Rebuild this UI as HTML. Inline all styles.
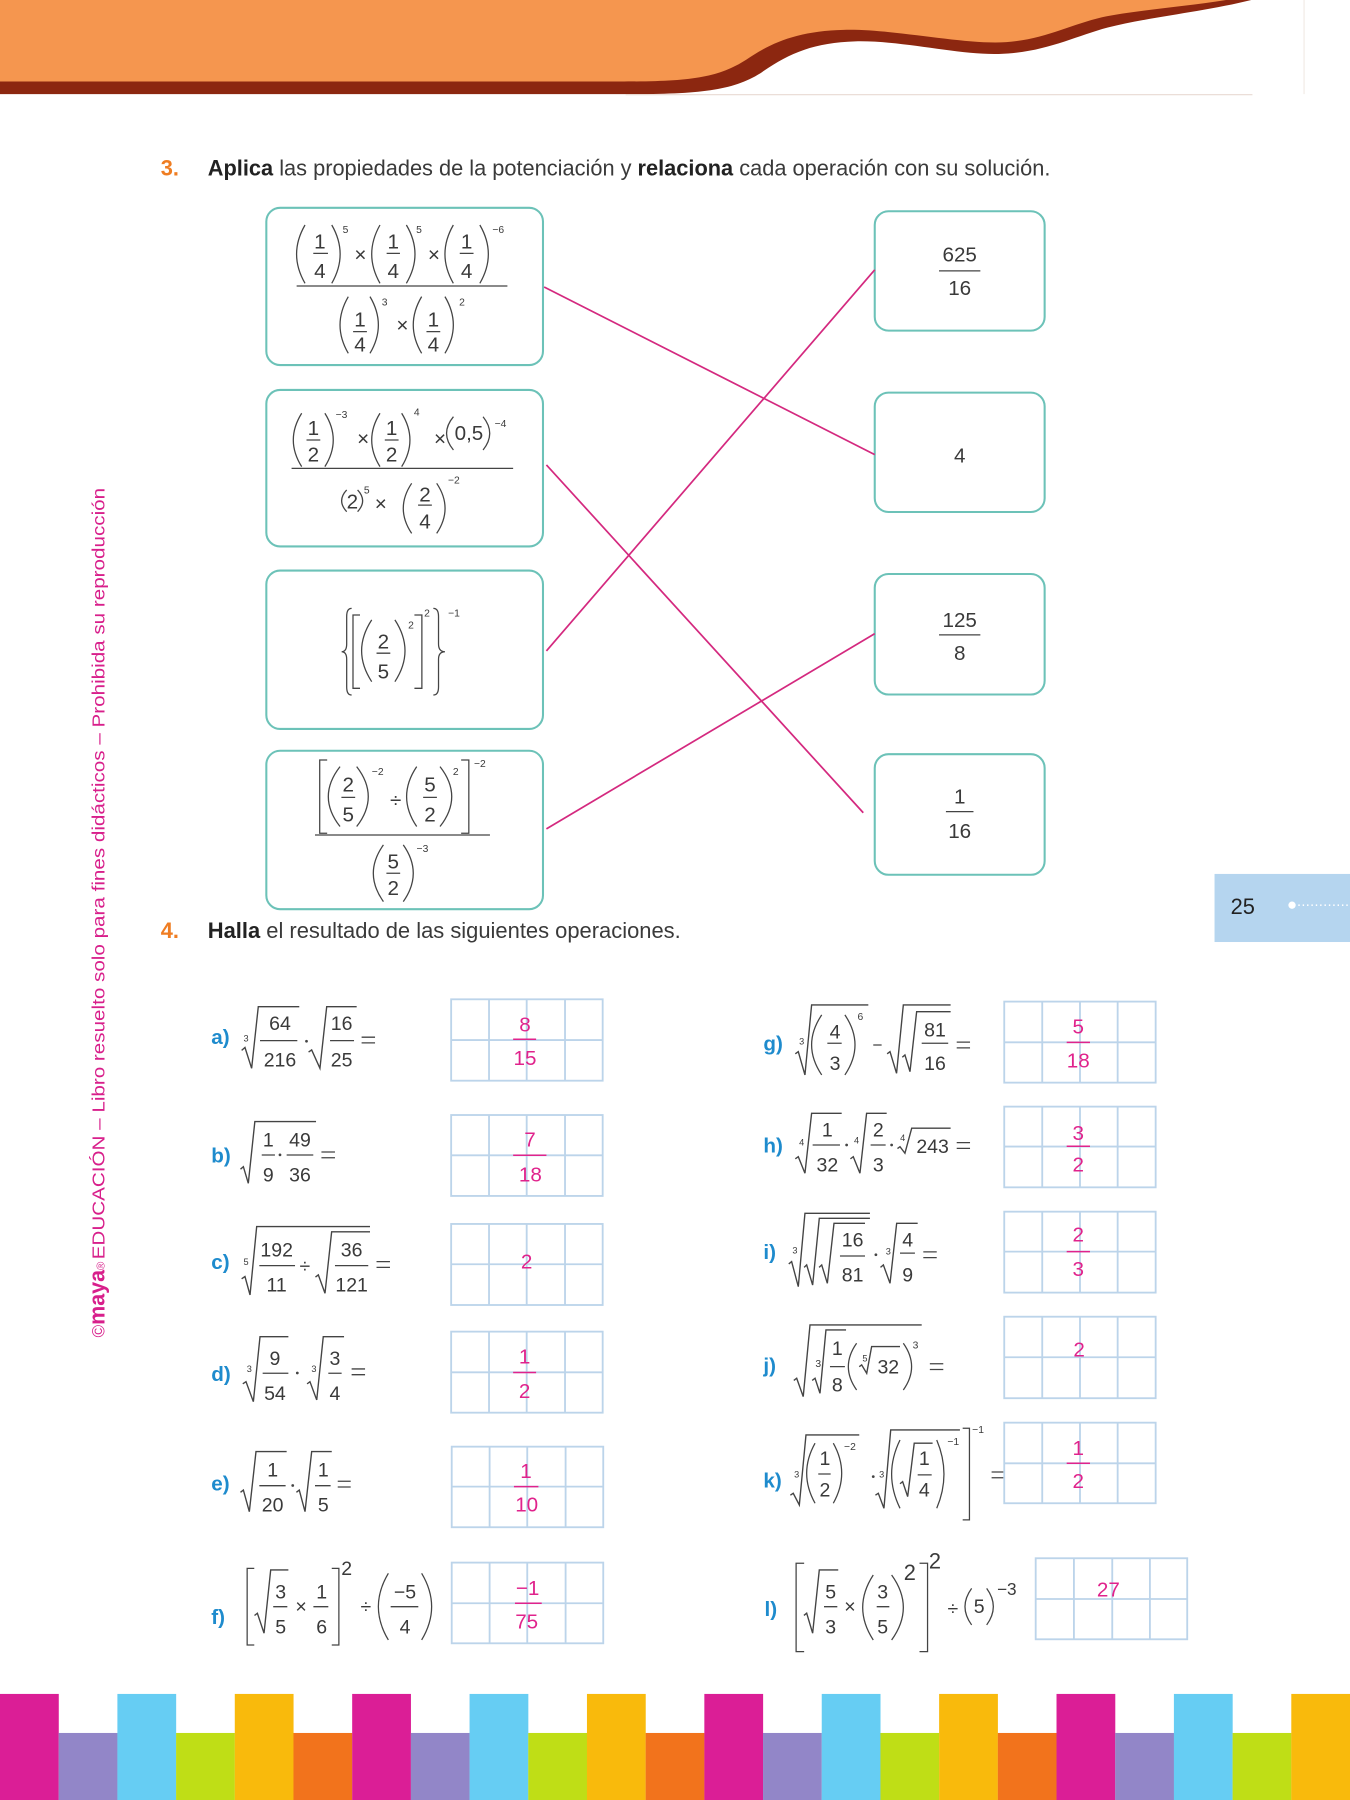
<!DOCTYPE html>
<html><head><meta charset="utf-8"><style>
html,body{margin:0;padding:0;background:#fff}
svg{display:block}
text{font-family:"Liberation Sans",sans-serif}
.d{font-size:18px;fill:#3a3a3a;text-anchor:middle}
.s{font-size:17px;fill:#3a3a3a;text-anchor:middle}
.x{font-size:9px;fill:#3a3a3a;text-anchor:middle}
.y{font-size:8px;fill:#3a3a3a;text-anchor:middle}
.a{font-size:18px;fill:#E0238C;text-anchor:middle}
.l{font-size:18px;font-weight:bold;fill:#1E8BCD}
.k{stroke:#444;stroke-width:1.1;fill:none}
.r{stroke:#444;stroke-width:1.2;fill:none;stroke-linejoin:miter}
.al{stroke:#E0238C;stroke-width:1.3;fill:none}
.g{stroke:#BCD4EA;stroke-width:1.6;fill:none}
.bx{fill:none;stroke:#6CC2B8;stroke-width:1.8}
.cn{stroke:#D4297F;stroke-width:1.5;fill:none}
</style></head><body>
<svg width="1350" height="1800" viewBox="0 0 1176 1568" xmlns="http://www.w3.org/2000/svg">
<rect width="1176" height="1568" fill="#fff"/>
<!-- header -->
<path d="M0,0V82H545C610,82 640,79 665,62C688,46 710,37 745,36C785,35 835,48 870,47C910,46 935,32 965,24C1000,15 1050,10 1090,0Z" fill="#8C2710"/>
<path d="M0,0V71H540C600,71 625,68 650,52C672,37 695,27 735,26C775,25 830,37 867,37C905,37 930,22 960,15C990,9 1030,6 1068,0Z" fill="#F5964F"/>
<path d="M545,82.5H1091" stroke="#E8DAD2" stroke-width="1"/>
<path d="M1136,0V82" stroke="#F2EAE4" stroke-width="1"/>

<!-- vertical side text -->
<text x="91" y="1165" transform="rotate(-90 91 1165)" fill="#D81F8B" font-size="15" textLength="66" lengthAdjust="spacingAndGlyphs">©<tspan font-weight="bold" font-size="19">maya</tspan><tspan font-size="10">®</tspan></text>
<text x="91" y="1097" transform="rotate(-90 91 1097)" fill="#D81F8B" font-size="15" textLength="672" lengthAdjust="spacingAndGlyphs">EDUCACIÓN – Libro resuelto solo para fines didácticos – Prohibida su reproducción</text>

<!-- page tab -->
<rect x="1058" y="761.3" width="118" height="59.3" fill="#B5D5EF"/>
<text x="1072" y="796" font-size="19" fill="#222">25</text>
<circle cx="1125.5" cy="788.5" r="3.2" fill="#fff"/>
<path d="M1131,788.5H1176" stroke="#fff" stroke-width="1.4" stroke-dasharray="1.2 2.6"/>

<!-- heading 3 -->
<text x="140" y="153" font-size="19" font-weight="bold" fill="#EF7D22">3.</text>
<text x="181" y="153" font-size="19" fill="#3a3a3a" textLength="734" lengthAdjust="spacingAndGlyphs"><tspan font-weight="bold" fill="#222">Aplica</tspan> las propiedades de la potenciación y <tspan font-weight="bold" fill="#222">relaciona</tspan> cada operación con su solución.</text>

<!-- boxes ex3 -->
<rect class="bx" x="232" y="181" width="241" height="137" rx="12"/>
<rect class="bx" x="232" y="339.7" width="241" height="136.3" rx="12"/>
<rect class="bx" x="232" y="497" width="241" height="138" rx="12"/>
<rect class="bx" x="232" y="654" width="241" height="138" rx="12"/>
<rect class="bx" x="762" y="184" width="148" height="104" rx="12"/>
<rect class="bx" x="762" y="342" width="148" height="104" rx="12"/>
<rect class="bx" x="762" y="500" width="148" height="105" rx="12"/>
<rect class="bx" x="762" y="657" width="148" height="105" rx="12"/>

<!-- connectors -->
<path class="cn" d="M474,250L762,396M476,405L752,708M476,567L762,235M476,722L762,552"/>

<!-- box1 -->
<path class="k" d="M265.7,196Q251,221.4 265.7,246.8M289,196Q303.6,221.4 289,246.8M331,196Q316.6,221.4 331,246.8M354,196Q369,221.4 354,246.8M394.9,196Q380.3,221.4 394.9,246.8M418,196Q432.8,221.4 418,246.8M272.9,220.7H285.7M336.8,220.7H348.4M400.5,220.7H412.5M258.4,249.1H442M307.6,288.9H319.6M371.5,288.9H383.5M303.4,258.4Q289,283.1 303.4,307.8M322.3,258.4Q336.9,283.1 322.3,307.8M367.3,258.4Q352.7,283.1 367.3,307.8M387.6,258.4Q402.2,283.1 387.6,307.8"/>
<text class="d" x="278.7" y="216.3">1</text><text class="d" x="278.7" y="242">4</text>
<text class="x" x="301" y="203">5</text>
<text class="d" x="314" y="228">×</text>
<text class="d" x="342.6" y="216.3">1</text><text class="d" x="342.6" y="242">4</text>
<text class="x" x="365" y="203">5</text>
<text class="d" x="378" y="228">×</text>
<text class="d" x="406.5" y="216.3">1</text><text class="d" x="406.5" y="242">4</text>
<text class="x" x="434" y="203">−6</text>
<text class="d" x="313.6" y="284.6">1</text><text class="d" x="313.6" y="306.3">4</text>
<text class="x" x="335" y="266">3</text>
<text class="d" x="350.6" y="289">×</text>
<text class="d" x="377.5" y="284.6">1</text><text class="d" x="377.5" y="306.3">4</text>
<text class="x" x="402.5" y="266">2</text>

<!-- box2 -->
<path class="k" d="M262.8,360Q248.2,383.3 262.8,406.5M283,360Q297.6,383.3 283,406.5M331,360Q316.6,383.3 331,406.5M349.9,360Q364.3,383.3 349.9,406.5M395,363Q383,377.5 395,392M420.8,363Q432.4,377.5 420.8,392M267,383.3H279M335.2,383.3H347.2M254,408H447M302,426.8Q293.2,436.2 302,445.7M311.5,426.8Q320.3,436.2 311.5,445.7M358.6,421Q344,442.8 358.6,464.6M380.4,421Q395,442.8 380.4,464.6M364.2,440H376.2"/>
<text class="d" x="273" y="379">1</text><text class="d" x="273" y="402.2">2</text>
<text class="x" x="297.5" y="364">−3</text>
<text class="d" x="316.4" y="388">×</text>
<text class="d" x="341.2" y="379">1</text><text class="d" x="341.2" y="402.2">2</text>
<text class="x" x="363" y="362">4</text>
<text class="d" x="383.3" y="388">×</text>
<text class="d" x="408.5" y="383.3">0,5</text>
<text class="x" x="436" y="372">−4</text>
<text class="d" x="307" y="442.8">2</text>
<text class="x" x="319.5" y="430">5</text>
<text class="d" x="331.7" y="444.5">×</text>
<text class="d" x="370.2" y="437">2</text><text class="d" x="370.2" y="460.2">4</text>
<text class="x" x="395.4" y="421">−2</text>

<!-- box3 -->
<path class="k" d="M306.3,530Q302,530 302,537V561Q302,567.7 297.6,567.7Q302,567.7 302,574.4V598.4Q302,605.4 306.3,605.4M313.6,535.7H307.5V599.6H313.6M323.8,540Q306.2,566.9 323.8,593.8M344,540Q361.6,566.9 344,593.8M328,569H340M361,535.7H367.5V599.6H361M377.5,530Q382,530 382,537V561Q382,567.7 387.6,567.7Q382,567.7 382,574.4V598.4Q382,605.4 377.5,605.4"/>
<text class="d" x="334" y="564.7">2</text><text class="d" x="334" y="590.9">5</text>
<text class="x" x="358" y="547.5">2</text>
<text class="x" x="372" y="537">2</text>
<text class="x" x="395.5" y="537">−1</text>

<!-- box4 -->
<path class="k" d="M285,662H278.5V725.9H285M296.2,667.8Q275.8,693.9 296.2,720M310.7,667.8Q330.9,693.9 310.7,720M297.4,694.6H309.4M363,667.8Q345.4,693.9 363,720M383.3,667.8Q403.7,693.9 383.3,720M368.6,694.6H380.6M401.7,662H408.4V725.9H401.7M274.4,727.4H426.8M334,736Q316.4,760.7 334,785.4M351.3,736Q368.7,760.7 351.3,785.4M336.6,760.7H348.6"/>
<text class="d" x="303.4" y="689.6">2</text><text class="d" x="303.4" y="715.8">5</text>
<text class="x" x="329" y="675">−2</text>
<text class="d" x="344.7" y="703">÷</text>
<text class="d" x="374.6" y="689.6">5</text><text class="d" x="374.6" y="715.8">2</text>
<text class="x" x="397" y="675">2</text>
<text class="x" x="418" y="668">−2</text>
<text class="d" x="342.6" y="756.4">5</text><text class="d" x="342.6" y="779.6">2</text>
<text class="x" x="368" y="742">−3</text>

<!-- right boxes -->
<path class="k" d="M818,236H854M818,553H854M824,707H848"/>
<text class="d" x="836" y="228">625</text><text class="d" x="836" y="257">16</text>
<text class="d" x="836" y="403">4</text>
<text class="d" x="836" y="546">125</text><text class="d" x="836" y="575">8</text>
<text class="d" x="836" y="700">1</text><text class="d" x="836" y="730">16</text>

<!-- heading 4 -->
<text x="140" y="817" font-size="19" font-weight="bold" fill="#EF7D22">4.</text>
<text x="181" y="817" font-size="19" fill="#3a3a3a" textLength="412" lengthAdjust="spacingAndGlyphs"><tspan font-weight="bold" fill="#222">Halla</tspan> el resultado de las siguientes operaciones.</text>

<!-- grids -->
<g class="g">
<rect x="393" y="870.5" width="132" height="70.9"/><path d="M426,870.5V941.4M458.8,870.5V941.4M492.2,870.5V941.4M393,906H525"/>
<rect x="393" y="971.3" width="132" height="70.5"/><path d="M426,971.3V1041.8M458.8,971.3V1041.8M492.2,971.3V1041.8M393,1006.4H525"/>
<rect x="393" y="1066.2" width="132" height="70.6"/><path d="M426,1066.2V1136.8M458.8,1066.2V1136.8M492.2,1066.2V1136.8M393,1101.3H525"/>
<rect x="393" y="1160" width="132" height="70.6"/><path d="M426,1160V1230.6M458.8,1160V1230.6M492.2,1160V1230.6M393,1195.4H525"/>
<rect x="393.5" y="1260.2" width="132" height="70.2"/><path d="M426.5,1260.2V1330.4M459.3,1260.2V1330.4M492.7,1260.2V1330.4M393.5,1295H525.5"/>
<rect x="393.5" y="1361.2" width="132" height="70.3"/><path d="M426.5,1361.2V1431.5M459.3,1361.2V1431.5M492.7,1361.2V1431.5M393.5,1396.6H525.5"/>
<rect x="874.8" y="872.5" width="131.9" height="70.6"/><path d="M907.9,872.5V943.1M940.8,872.5V943.1M973.6,872.5V943.1M874.8,908H1006.7"/>
<rect x="874.8" y="964" width="131.9" height="70.3"/><path d="M907.9,964V1034.3M940.8,964V1034.3M973.6,964V1034.3M874.8,998.8H1006.7"/>
<rect x="874.8" y="1055.5" width="131.9" height="70.5"/><path d="M907.9,1055.5V1126M940.8,1055.5V1126M973.6,1055.5V1126M874.8,1090.3H1006.7"/>
<rect x="874.8" y="1147" width="131.9" height="71"/><path d="M907.9,1147V1218M940.8,1147V1218M973.6,1147V1218M874.8,1182.3H1006.7"/>
<rect x="874.8" y="1239.3" width="131.9" height="70.2"/><path d="M907.9,1239.3V1309.5M940.8,1239.3V1309.5M973.6,1239.3V1309.5M874.8,1274.7H1006.7"/>
<rect x="902.2" y="1357.4" width="132" height="70.6"/><path d="M935.5,1357.4V1428M968.9,1357.4V1428M1001.7,1357.4V1428M902.2,1392.9H1034.2"/>
</g>

<!-- answers -->
<path class="al" d="M447,905.3H467M447,1006.4H476M447,1195.6H467M447.7,1295H469M448.6,1396.6H471.9M929.2,908H949.5M929.2,998.5H949.5M929.2,1090.3H949.5M929.2,1274.7H949.5"/>
<text class="a" x="457.3" y="898.7">8</text><text class="a" x="457.3" y="927.7">15</text>
<text class="a" x="461.7" y="998.9">7</text><text class="a" x="462" y="1029.4">18</text>
<text class="a" x="458.8" y="1104.8">2</text>
<text class="a" x="457" y="1187.6">1</text><text class="a" x="457" y="1218">2</text>
<text class="a" x="458.2" y="1287.6">1</text><text class="a" x="458.8" y="1316.8">10</text>
<text class="a" x="459.6" y="1389.4">−1</text><text class="a" x="458.8" y="1418.4">75</text>
<text class="a" x="939.3" y="900.1">5</text><text class="a" x="939.3" y="929.8">18</text>
<text class="a" x="939.3" y="993">3</text><text class="a" x="939.3" y="1020.6">2</text>
<text class="a" x="939.3" y="1081.6">2</text><text class="a" x="939.3" y="1111.5">3</text>
<text class="a" x="940" y="1181.8">2</text>
<text class="a" x="939.3" y="1267.4">1</text><text class="a" x="939.3" y="1296.4">2</text>
<text class="a" x="965.5" y="1390.8">27</text>

<!-- labels -->
<text class="l" x="184" y="909.5">a)</text>
<text class="l" x="184" y="1012.5">b)</text>
<text class="l" x="184" y="1105.5">c)</text>
<text class="l" x="184" y="1202.8">d)</text>
<text class="l" x="184" y="1298.6">e)</text>
<text class="l" x="184" y="1414.8">f)</text>
<text class="l" x="665" y="915.3">g)</text>
<text class="l" x="665" y="1003.9">h)</text>
<text class="l" x="665" y="1096.8">i)</text>
<text class="l" x="665" y="1195.5">j)</text>
<text class="l" x="665" y="1295.7">k)</text>
<text class="l" x="666" y="1407.5">l)</text>

<!-- a -->
<polyline class="r" points="210.5,915 213.4,912.5 219.2,930.6 225,876.9 260.7,876.9"/>
<polyline class="r" points="268.8,916.5 271.5,914.6 278.7,930.6 284.6,876.9 310.7,876.9"/>
<path class="k" d="M226.5,906.5H259M287.5,906.5H308.4M315,903.5H326.7M315,908.5H326.7"/>
<text class="y" x="214.3" y="907.4">3</text>
<text class="s" x="243.9" y="897.2">64</text><text class="s" x="243.9" y="929.2">216</text>
<circle cx="267" cy="907" r="1.2" fill="#444"/>
<text class="s" x="297.6" y="897.2">16</text><text class="s" x="297.6" y="929.2">25</text>

<!-- b -->
<polyline class="r" points="209.5,1018.5 212,1016.3 216.3,1030.8 222,977 275.3,977"/>
<path class="k" d="M228,1006.1H239.5M249.7,1006.1H272.9M280,1003.5H291.8M280,1008.5H291.8"/>
<text class="s" x="233.7" y="998.9">1</text><text class="s" x="233.7" y="1029.4">9</text>
<circle cx="243.9" cy="1006" r="1.2" fill="#444"/>
<text class="s" x="261.3" y="998.9">49</text><text class="s" x="261.3" y="1029.4">36</text>

<!-- c -->
<polyline class="r" points="210.5,1114 213.4,1112 217.8,1128 223.6,1068.5 322.3,1068.5"/>
<polyline class="r" points="274.8,1112.5 277.3,1110.6 283.1,1126.6 288.9,1073 322.3,1073"/>
<path class="k" d="M225.9,1102.5H257M291.8,1102.5H320.8M328,1099H339.7M328,1104H339.7"/>
<text class="y" x="214.3" y="1102">5</text>
<text class="s" x="241" y="1094.7">192</text><text class="s" x="241" y="1125.2">11</text>
<text class="s" x="265.6" y="1108.6">÷</text>
<text class="s" x="306.3" y="1094.7">36</text><text class="s" x="306.3" y="1125.2">121</text>

<!-- d -->
<polyline class="r" points="211.5,1205.5 214.3,1203.6 220.7,1221 226.5,1164.4 251.2,1164.4"/>
<polyline class="r" points="267.5,1205.5 270,1203.6 275.9,1219.5 281.6,1164.4 299.7,1164.4"/>
<path class="k" d="M228.8,1196.3H251.2M286,1196.3H297.6M306.3,1192.5H318M306.3,1197.5H318"/>
<text class="y" x="217.2" y="1195">3</text>
<text class="s" x="239.5" y="1189">9</text><text class="s" x="239.5" y="1219.5">54</text>
<circle cx="259" cy="1196" r="1.2" fill="#444"/>
<text class="y" x="273.5" y="1195">3</text>
<text class="s" x="291.8" y="1189">3</text><text class="s" x="291.8" y="1219.5">4</text>

<!-- e -->
<polyline class="r" points="209.5,1300 212,1298 217.2,1316.8 223,1264.5 249.7,1264.5"/>
<polyline class="r" points="258.2,1300 260.7,1298 265.7,1316.8 271.5,1264.5 289,1264.5"/>
<path class="k" d="M225.9,1294.2H248.8M274.4,1294.2H288M294.2,1290.3H305.5M294.2,1295.3H305.5"/>
<text class="s" x="237.5" y="1286.3">1</text><text class="s" x="237.5" y="1316.8">20</text>
<circle cx="255" cy="1294" r="1.2" fill="#444"/>
<text class="s" x="281.6" y="1286.3">1</text><text class="s" x="281.6" y="1316.8">5</text>

<!-- f -->
<path class="k" d="M221.5,1366.2H215.3V1433H221.5M289,1366.2H295.2V1433H289M238,1399.6H250.3M273,1399.6H286M338.3,1370.5Q320.9,1399.6 338.3,1428.6M367.3,1370.5Q384.7,1399.6 367.3,1428.6M340.3,1399.6H364.4"/>
<polyline class="r" points="221.7,1407.3 224.2,1405.3 230,1422.7 235.8,1367.6 251.2,1367.6"/>
<text class="s" x="244.5" y="1392.3">3</text><text class="s" x="244.5" y="1422.8">5</text>
<text class="s" x="262.3" y="1405.3">×</text>
<text class="s" x="280.2" y="1392.3">1</text><text class="s" x="280.2" y="1422.8">6</text>
<text class="s" x="302" y="1372">2</text>
<text class="s" x="318.7" y="1405.3">÷</text>
<text class="s" x="352.8" y="1392.3">−5</text><text class="s" x="352.8" y="1422.8">4</text>

<!-- g -->
<polyline class="r" points="692.8,918 695.4,916.1 701.2,936.4 707,875.4 756.4,875.4"/>
<polyline class="r" points="772.8,918 775.3,916.1 781,935 786.9,875.4 828.1,875.4"/>
<polyline class="r" points="786,921 788.3,919 792.7,933.5 798.5,881.3 828.1,881.3"/>
<path class="k" d="M715.8,884.1Q698.2,910.2 715.8,936.4M736,884.1Q753.6,910.2 736,936.4M720.7,908.8H733.2M760.7,910.3H768M802.9,908.8H826M833.4,907.8H845M833.4,912.8H845"/>
<text class="y" x="698.3" y="910">3</text>
<text class="s" x="727.4" y="904.5">4</text><text class="s" x="727.4" y="932.1">3</text>
<text class="x" x="749.5" y="888.5">6</text>
<text class="s" x="814.5" y="903">81</text><text class="s" x="814.5" y="932.1">16</text>

<!-- h -->
<polyline class="r" points="692.8,1009.5 695.4,1007.6 701.2,1022 707,969.8 733.2,969.8"/>
<polyline class="r" points="740.8,1009.5 743.3,1007.6 749.1,1022 754.9,969.8 772.4,969.8"/>
<polyline class="r" points="781.8,1000.5 784,998.9 788.3,1004.6 794.2,982.8 828.1,982.8"/>
<path class="k" d="M707.9,997.4H731.7M758.4,997.4H771.5M833.4,995.4H845M833.4,1000.4H845"/>
<text class="y" x="698.3" y="998">4</text>
<text class="s" x="720.7" y="990.1">1</text><text class="s" x="720.7" y="1020.6">32</text>
<circle cx="737.5" cy="997.4" r="1.2" fill="#444"/>
<text class="y" x="746.2" y="996">4</text>
<text class="s" x="765.1" y="990.1">2</text><text class="s" x="765.1" y="1020.6">3</text>
<circle cx="776.7" cy="997.4" r="1.2" fill="#444"/>
<text class="y" x="786.3" y="994">4</text>
<text class="s" x="812.4" y="1004.6">243</text>

<!-- i -->
<polyline class="r" points="687.1,1101 689.6,1099 695.4,1120.8 701.2,1056.9 757.8,1056.9"/>
<polyline class="r" points="700.5,1104 702.7,1101.9 707.9,1119.4 713.7,1061.3 757.8,1061.3"/>
<polyline class="r" points="713.5,1104 715.8,1101.9 720.7,1117.9 726.5,1065.6 753.5,1065.6"/>
<polyline class="r" points="767,1104 769.5,1101.9 775.3,1117.9 781.1,1065.6 799.4,1065.6"/>
<path class="k" d="M731.7,1094.1H753.5M784,1091.6H797M804.3,1090.5H816M804.3,1095.5H816"/>
<text class="y" x="692.5" y="1092">3</text>
<text class="s" x="742.7" y="1086">16</text><text class="s" x="742.7" y="1116.5">81</text>
<circle cx="763" cy="1093" r="1.2" fill="#444"/>
<text class="y" x="773.8" y="1093">3</text>
<text class="s" x="790.7" y="1086">4</text><text class="s" x="790.7" y="1116.5">9</text>

<!-- j -->
<polyline class="r" points="691.5,1202.5 694,1200.6 699.7,1216.6 705.6,1154.2 802.9,1154.2"/>
<polyline class="r" points="707.5,1202.5 710,1200.6 714.3,1213.7 719.5,1158.5 737,1158.5"/>
<polyline class="r" points="748.5,1190.5 750.6,1189 755,1196.3 759.3,1173 784,1173"/>
<path class="k" d="M723,1190.5H736M746.2,1170.1Q731.8,1190.5 746.2,1210.8M786.9,1170.1Q801.3,1190.5 786.9,1210.8M810,1188H821.7M810,1193H821.7"/>
<text class="x" x="712.8" y="1191">3</text>
<text class="s" x="729.4" y="1180.3">1</text><text class="s" x="729.4" y="1212.3">8</text>
<text class="y" x="753.5" y="1186">5</text>
<text class="s" x="773.8" y="1196.3">32</text>
<text class="x" x="797.5" y="1174.5">3</text>

<!-- k -->
<polyline class="r" points="688.5,1302.5 691,1300.8 696.3,1311 702.1,1250 748.5,1250"/>
<polyline class="r" points="762.6,1302.5 765.1,1300.8 770,1313.9 775.9,1245.6 836.2,1245.6"/>
<polyline class="r" points="784,1292.5 786.3,1290.7 790.7,1303.7 796.4,1257.2 812.4,1257.2"/>
<path class="k" d="M710,1257.2Q695.4,1283.4 710,1309.5M725.9,1257.2Q740.5,1283.4 725.9,1309.5M712.8,1284H723.6M784,1254.4Q769.4,1284.2 784,1313.9M816,1254.4Q828.6,1284.2 816,1313.9M799.4,1284.8H811.6M838.6,1244.2H844.5V1324H838.6M863.8,1282.3H874M863.8,1287.3H874"/>
<text class="y" x="694" y="1287">3</text>
<text class="s" x="718.6" y="1276.1">1</text><text class="s" x="718.6" y="1303.7">2</text>
<text class="x" x="740.4" y="1263.1">−2</text>
<circle cx="760.7" cy="1286.3" r="1.2" fill="#444"/>
<text class="y" x="768" y="1287">3</text>
<text class="s" x="805.2" y="1276.1">1</text><text class="s" x="805.2" y="1303.7">4</text>
<text class="x" x="830.4" y="1258.7">−1</text>
<text class="x" x="852" y="1248.5">−1</text>

<!-- l -->
<polyline class="r" points="700.3,1407.2 702.7,1405.3 707.9,1422.7 713.7,1367.6 730.2,1367.6"/>
<path class="k" d="M700.5,1361.8H693.5V1438.7H700.5M717.8,1399.6H729.4M760.7,1372Q742.3,1400.3 760.7,1428.6M776.7,1372Q797.1,1400.3 776.7,1428.6M763.7,1399.6H774.7M801,1361.8H808V1438.7H801M846.4,1383.6Q834.8,1399.5 846.4,1415.5M859.5,1383.6Q871.1,1399.5 859.5,1415.5"/>
<text class="s" x="723.6" y="1392.3">5</text><text class="s" x="723.6" y="1422.8">3</text>
<text class="s" x="740.4" y="1405.3">×</text>
<text class="s" x="768.9" y="1392.3">3</text><text class="s" x="768.9" y="1422.8">5</text>
<text class="s" x="792.6" y="1376.3" style="font-size:19px">2</text>
<text class="s" x="814.4" y="1366.2" style="font-size:19px">2</text>
<text class="s" x="830" y="1406.8">÷</text>
<text class="s" x="853" y="1405.3">5</text>
<text class="s" x="877" y="1389.4" style="font-size:15px">−3</text>

<!-- bottom stripes -->
<g>
<rect x="0" y="1475.6" width="51.2" height="93" fill="#DB1E96"/>
<rect x="51.13" y="1509.6" width="51.2" height="59" fill="#9286C8"/>
<rect x="102.26" y="1475.6" width="51.2" height="93" fill="#66CDF3"/>
<rect x="153.39" y="1509.6" width="51.2" height="59" fill="#BFDE16"/>
<rect x="204.52" y="1475.6" width="51.2" height="93" fill="#F9BA0C"/>
<rect x="255.65" y="1509.6" width="51.2" height="59" fill="#F2731C"/>
<rect x="306.78" y="1475.6" width="51.2" height="93" fill="#DB1E96"/>
<rect x="357.91" y="1509.6" width="51.2" height="59" fill="#9286C8"/>
<rect x="409.04" y="1475.6" width="51.2" height="93" fill="#66CDF3"/>
<rect x="460.17" y="1509.6" width="51.2" height="59" fill="#BFDE16"/>
<rect x="511.3" y="1475.6" width="51.2" height="93" fill="#F9BA0C"/>
<rect x="562.43" y="1509.6" width="51.2" height="59" fill="#F2731C"/>
<rect x="613.56" y="1475.6" width="51.2" height="93" fill="#DB1E96"/>
<rect x="664.69" y="1509.6" width="51.2" height="59" fill="#9286C8"/>
<rect x="715.82" y="1475.6" width="51.2" height="93" fill="#66CDF3"/>
<rect x="766.95" y="1509.6" width="51.2" height="59" fill="#BFDE16"/>
<rect x="818.08" y="1475.6" width="51.2" height="93" fill="#F9BA0C"/>
<rect x="869.21" y="1509.6" width="51.2" height="59" fill="#F2731C"/>
<rect x="920.34" y="1475.6" width="51.2" height="93" fill="#DB1E96"/>
<rect x="971.47" y="1509.6" width="51.2" height="59" fill="#9286C8"/>
<rect x="1022.6" y="1475.6" width="51.2" height="93" fill="#66CDF3"/>
<rect x="1073.73" y="1509.6" width="51.2" height="59" fill="#BFDE16"/>
<rect x="1124.86" y="1475.6" width="51.2" height="93" fill="#F9BA0C"/>
</g>
</svg>
</body></html>
